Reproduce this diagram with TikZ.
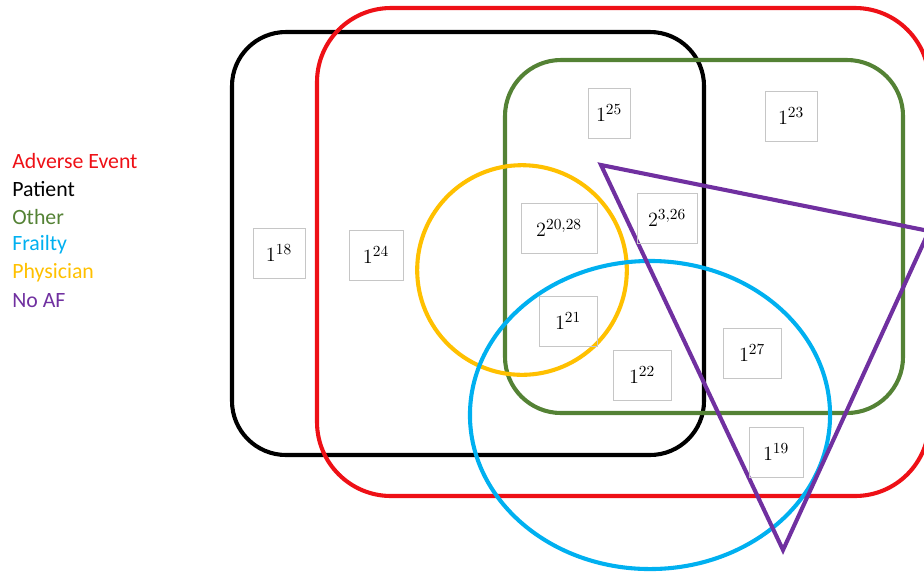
\documentclass[tikz,border=0pt]{standalone}
\usepackage{fontspec}
\newfontfamily\legendfont{Carlito}
\usetikzlibrary{positioning}
\definecolor{aered}{RGB}{238,16,22}
\definecolor{otgreen}{RGB}{84,130,53}
\definecolor{frblue}{RGB}{0,176,240}
\definecolor{phyellow}{RGB}{255,192,0}
\definecolor{afpurple}{RGB}{112,48,160}
\tikzset{
  setline/.style={line width=2.9pt},
  countbox/.style={draw=gray!45, line width=0.5pt, minimum height=1.25cm,
    inner sep=3pt, font=\fontsize{15.5}{18}\selectfont},
  legendtext/.style={anchor=west, inner sep=0pt, font=\legendfont\fontsize{15.5}{18}\selectfont}
}

\begin{document}
\begin{tikzpicture}[x=0.025cm, y=-0.025cm]
  \useasboundingbox (0,0) rectangle (924,575);
  \clip (0,0) rectangle (924,575);
  % Legend
  \foreach \y/\col/\name/\label in {
    161/aered/ae/Adverse Event, 189/black/pt/Patient, 217/otgreen/ot/Other,
    245/frblue/fr/Frailty, 273/phyellow/ph/Physician, 301/afpurple/af/No AF
  } {
    \node[legendtext, text=\col] (leg-\name) at (12, \y) {\label};
  }
  % Sets
  \draw[setline, black, rounded corners=1.35cm] (232,32) rectangle (704,455); % Patient
  \draw[setline, aered, rounded corners=1.85cm] (317,8) rectangle (929,496); % Adverse Event
  \draw[setline, otgreen, rounded corners=1.4cm] (505,60) rectangle (903,413); % Other
  \draw[setline, phyellow] (522,270) circle (2.62cm); % Physician
  \draw[setline, frblue] (650,415) ellipse [x radius=4.5cm, y radius=3.85cm]; % Frailty
  \draw[setline, afpurple] (601,165) -- (929,231) -- (783,550) -- cycle; % No AF
  % Counts
  \foreach \x/\y/\w/\name/\label in {
    279/253/1.3/c18/{$1^{18}$}, 376/255/1.35/c24/{$1^{24}$}, 609/113/1.05/c25/{$1^{25}$},
    791/116/1.3/c23/{$1^{23}$}, 559/228/1.9/c2028/{$2^{20,28}$}, 667/218/1.5/c326/{$2^{3,26}$},
    568/321/1.45/c21/{$1^{21}$}, 642/375/1.45/c22/{$1^{22}$}, 752/353/1.45/c27/{$1^{27}$},
    776/452/1.35/c19/{$1^{19}$}
  } {
    \node[countbox, minimum width=\w cm] (\name) at (\x, \y) {\label};
  }
\end{tikzpicture}
\end{document}
